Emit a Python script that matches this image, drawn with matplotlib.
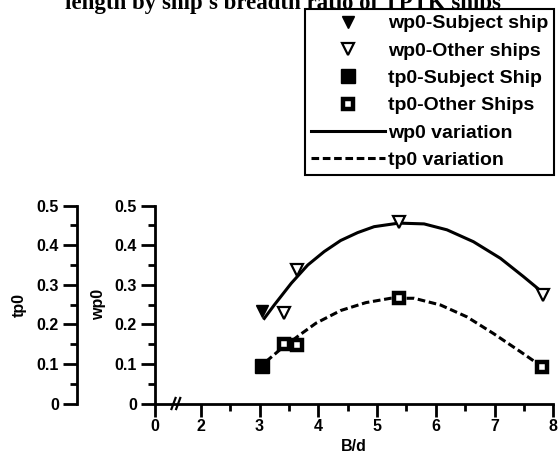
import matplotlib
matplotlib.use("Agg")
import matplotlib.pyplot as plt
from matplotlib.lines import Line2D
from matplotlib.ticker import FixedLocator, NullFormatter

plt.rcParams['font.family'] = ['Liberation Sans', 'DejaVu Sans']
plt.rcParams['font.weight'] = 'bold'

# measured points
x_wp_subject = [3.04]
wp_subject = [0.235]
x_wp_other = [3.42, 3.64, 5.37, 7.82]
wp_other = [0.228, 0.337, 0.460, 0.274]
x_tp_subject = [3.04]
tp_subject = [0.095]
x_tp_other = [3.42, 3.64, 5.37, 7.80]
tp_other = [0.150, 0.147, 0.267, 0.093]

# trend curves
x_wp_curve = [3.08, 3.25, 3.54, 3.82, 4.10, 4.38, 4.67, 4.95, 5.37, 5.80,
              6.19, 6.64, 7.10, 7.49, 7.80]
wp_curve = [0.215, 0.249, 0.304, 0.350, 0.384, 0.412, 0.432, 0.447, 0.456,
            0.454, 0.439, 0.409, 0.367, 0.321, 0.283]
x_tp_curve = [3.11, 3.34, 3.68, 3.96, 4.38, 4.81, 5.23, 5.63, 6.08, 6.53,
              6.98, 7.44, 7.77]
tp_curve = [0.106, 0.135, 0.173, 0.203, 0.235, 0.255, 0.266, 0.266, 0.249,
            0.219, 0.177, 0.131, 0.097]

x_ticks = [1.22, 2, 3, 4, 5, 6, 7, 8]
x_ticklabels = ['0', '2', '3', '4', '5', '6', '7', '8']
x_minor = [2.5, 3.5, 4.5, 5.5, 6.5, 7.5]
y_ticks = [0, 0.1, 0.2, 0.3, 0.4, 0.5]
y_ticklabels = ['0', '0.1', '0.2', '0.3', '0.4', '0.5']
y_minor = [0.05, 0.15, 0.25, 0.35, 0.45]

fs = 11.5
W, H = 559, 455
fig = plt.figure(figsize=(W / 100, H / 100), dpi=100)

# main wp0 axes
ax = fig.add_axes([155 / W, 1 - 403.5 / H, (553.3 - 155) / W, (403.5 - 205.7) / H])
ax.plot(x_wp_curve, wp_curve, color='black', lw=2.2, zorder=2)
ax.plot(x_tp_curve, tp_curve, color='black', lw=2.2, dashes=(2.5, 1.2), zorder=2)
ax.plot(x_wp_subject, wp_subject, 'v', color='black', ms=9, zorder=3)
ax.plot(x_wp_other, wp_other, 'v', mfc='white', mec='black', mew=1.6, ms=9, zorder=3)
ax.plot(x_tp_subject, tp_subject, 's', color='black', ms=10, zorder=3)
ax.plot(x_tp_other, tp_other, 's', mfc='white', mec='black', mew=3.2, ms=7.5, zorder=3)

ax.set_xlim(1.22, 8)
ax.set_ylim(0, 0.5)
for side in ['top', 'right']:
    ax.spines[side].set_visible(False)
for side in ['left', 'bottom']:
    ax.spines[side].set_linewidth(2)
ax.set_xticks(x_ticks)
ax.set_xticklabels(x_ticklabels)
ax.xaxis.set_minor_locator(FixedLocator(x_minor))
ax.set_yticks(y_ticks)
ax.set_yticklabels(y_ticklabels)
ax.yaxis.set_minor_locator(FixedLocator(y_minor))
ax.tick_params(which='major', length=9, width=2, labelsize=fs, pad=2)
ax.tick_params(which='minor', length=5, width=2)
ax.tick_params(axis='y', which='major', length=10, pad=3)
ax.set_xlabel('B/d', fontsize=fs, fontweight='bold', labelpad=4)
ax.set_ylabel('wp0', fontsize=fs, fontweight='bold', labelpad=6)

# axis break marks
for dx in (0.0, 0.08):
    ax.plot([1.50 + dx, 1.57 + dx], [-0.014, 0.014], color='black', lw=1.6,
            clip_on=False, zorder=4)

# separate tp0 scale on the left
ax2 = fig.add_axes([77 / W, 1 - 403.5 / H, 0.001, (403.5 - 205.7) / H])
ax2.set_ylim(0, 0.5)
for side in ['top', 'right', 'bottom']:
    ax2.spines[side].set_visible(False)
ax2.spines['left'].set_linewidth(2)
ax2.set_xticks([])
ax2.set_yticks(y_ticks)
ax2.set_yticklabels(y_ticklabels)
ax2.yaxis.set_minor_locator(FixedLocator(y_minor))
ax2.yaxis.set_minor_formatter(NullFormatter())
ax2.tick_params(axis='y', which='major', length=10, width=2, labelsize=fs, pad=3)
ax2.tick_params(axis='y', which='minor', length=5, width=2)
ax2.set_ylabel('tp0', fontsize=fs, fontweight='bold', labelpad=7)

# title, partly above the page edge
fig.text(283 / W, 1 - 9 / H,
         "length by ship's breadth ratio of TPTK ships",
         family='Liberation Serif', fontweight='bold', fontsize=16.5,
         ha='center', va='baseline')

handles = [
    Line2D([], [], ls='none', marker='v', color='black', ms=9),
    Line2D([], [], ls='none', marker='v', mfc='white', mec='black', mew=1.6, ms=9),
    Line2D([], [], ls='none', marker='s', color='black', ms=10),
    Line2D([], [], ls='none', marker='s', mfc='white', mec='black', mew=3.2, ms=7.5),
    Line2D([], [], color='black', lw=2.2),
    Line2D([], [], color='black', lw=2.2, dashes=(2.5, 1.2)),
]
labels = ['wp0-Subject ship', 'wp0-Other ships', 'tp0-Subject Ship',
          'tp0-Other Ships', 'wp0 variation', 'tp0 variation']
leg = fig.legend(handles, labels, loc='upper right',
                 bbox_to_anchor=(554 / W, 1 - 9 / H),
                 prop={'family': 'Liberation Sans', 'weight': 'bold', 'size': 14},
                 handlelength=3.8, handletextpad=0.15, borderpad=0.3,
                 labelspacing=0.5, borderaxespad=0, fancybox=False,
                 framealpha=1, edgecolor='black')
leg.get_frame().set_linewidth(1.5)

fig.savefig('out.png', dpi=100)
